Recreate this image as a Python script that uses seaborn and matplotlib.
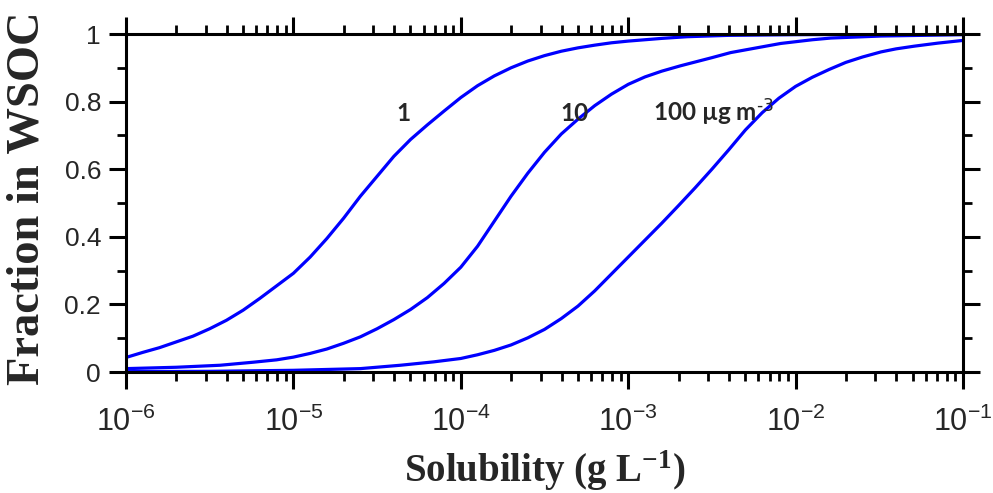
import matplotlib
matplotlib.use("Agg")
import matplotlib.pyplot as plt
import numpy as np
import pandas as pd
import seaborn as sns
from matplotlib.ticker import FixedLocator, MultipleLocator, FuncFormatter, LogLocator

# Fraction of organic compound partitioned into the water-soluble fraction,
# as a function of solubility, for three organic aerosol loadings.
# x values are log10(solubility / g L^-1)
log_s_1 = [-6.0, -5.9, -5.8, -5.7, -5.6, -5.5, -5.4, -5.3, -5.2, -5.1, -5.0,
           -4.9, -4.8, -4.7, -4.6, -4.5, -4.4, -4.3, -4.2, -4.1, -4.0, -3.9,
           -3.8, -3.7, -3.6, -3.5, -3.4, -3.3, -3.2, -3.1, -3.0, -2.8, -2.647,
           -2.4, -2.0, -1.5, -1.0]
frac_1 = [0.043, 0.058, 0.072, 0.089, 0.106, 0.128, 0.153, 0.183, 0.218,
          0.255, 0.292, 0.340, 0.395, 0.455, 0.520, 0.579, 0.638, 0.688,
          0.731, 0.772, 0.812, 0.847, 0.876, 0.900, 0.920, 0.936, 0.949,
          0.959, 0.967, 0.974, 0.979, 0.987, 0.992, 0.996, 0.998, 0.999, 1.0]

log_s_10 = [-6.0, -5.7, -5.437, -5.239, -5.1, -5.0, -4.9, -4.8, -4.7, -4.6,
            -4.5, -4.4, -4.3, -4.2, -4.1, -4.0, -3.9, -3.8, -3.7, -3.6, -3.5,
            -3.4, -3.3, -3.2, -3.1, -3.0, -2.9, -2.8, -2.687, -2.5, -2.388,
            -2.2, -2.089, -1.9, -1.79, -1.49, -1.0]
frac_10 = [0.010, 0.014, 0.020, 0.029, 0.036, 0.044, 0.055, 0.068, 0.085,
           0.104, 0.128, 0.155, 0.185, 0.220, 0.262, 0.310, 0.372, 0.446,
           0.520, 0.588, 0.650, 0.704, 0.748, 0.788, 0.822, 0.851, 0.873,
           0.890, 0.906, 0.930, 0.945, 0.962, 0.972, 0.983, 0.988, 0.994,
           0.998]

log_s_100 = [-6.0, -5.5, -5.0, -4.6, -4.36, -4.162, -4.0, -3.9, -3.8, -3.7,
             -3.6, -3.5, -3.4, -3.3, -3.2, -3.1, -3.0, -2.9, -2.8, -2.7, -2.6,
             -2.5, -2.4, -2.3, -2.2, -2.1, -2.0, -1.9, -1.8, -1.7, -1.6, -1.49,
             -1.4, -1.291, -1.15, -1.0]
frac_100 = [0.001, 0.002, 0.005, 0.010, 0.020, 0.030, 0.040, 0.051, 0.064,
            0.080, 0.101, 0.126, 0.158, 0.195, 0.240, 0.290, 0.340, 0.390,
            0.440, 0.492, 0.545, 0.600, 0.657, 0.716, 0.767, 0.810, 0.845,
            0.872, 0.895, 0.916, 0.932, 0.947, 0.956, 0.964, 0.973, 0.981]

loadings = ["1", "10", "100"]
curve_labels = ["1", "10", "100 \u00b5g m$^{\\text{-3}}$"]
# label anchor: (log10 solubility, fraction) of the left baseline point
label_pos = [(-4.385, 0.743), (-3.404, 0.743), (-2.854, 0.743)]

y_ticks = [0, 0.2, 0.4, 0.6, 0.8, 1.0]

frames = []
for name, xs, ys in zip(loadings, [log_s_1, log_s_10, log_s_100],
                        [frac_1, frac_10, frac_100]):
    frames.append(pd.DataFrame({"solubility": np.power(10.0, xs),
                                "fraction": ys, "loading": name}))
df = pd.concat(frames, ignore_index=True)

sns.set_style("ticks")
plt.rcParams["font.family"] = ["Liberation Sans", "DejaVu Sans"]
plt.rcParams["mathtext.default"] = "regular"

fig = plt.figure(figsize=(9.93, 4.93), dpi=100)
ax = fig.add_axes([126 / 993, 1 - 372 / 493, (963 - 126) / 993, (372 - 34) / 493])

sns.lineplot(data=df, x="solubility", y="fraction", hue="loading",
             palette=["#0000ff"] * 3, estimator=None, sort=True,
             linewidth=2.3, legend=False, ax=ax)

ax.set_xscale("log")
ax.set_xlim(1e-6, 1e-1)
ax.set_ylim(0, 1)

ax.xaxis.set_major_locator(LogLocator(base=10, numticks=10))
ax.xaxis.set_minor_locator(LogLocator(base=10, subs=np.arange(2, 10), numticks=20))
ax.yaxis.set_major_locator(FixedLocator(y_ticks))
ax.yaxis.set_major_formatter(FuncFormatter(lambda v, p: f"{v:g}"))
ax.yaxis.set_minor_locator(MultipleLocator(0.1))

for side in ["left", "right", "top", "bottom"]:
    ax.spines[side].set_visible(True)
    ax.spines[side].set_linewidth(2.2)
    ax.spines[side].set_color("black")

ax.tick_params(which="both", direction="out", top=True, right=True,
               labeltop=False, labelright=False, color="black")
ax.tick_params(which="major", length=12, width=2.2)
ax.tick_params(which="minor", length=6.5, width=2.0)
ax.tick_params(axis="y", which="major", labelsize=19, pad=6)
ax.tick_params(axis="x", which="major", labelsize=22, pad=13)

for text, (lx, ly) in zip(curve_labels, label_pos):
    ax.text(10 ** lx, ly, text, ha="left", va="baseline", fontsize=17.5,
            fontweight="bold", family=["Lato", "DejaVu Sans"])

ax.set_xlabel("Solubility (g L$^{\\mathdefault{-1}}$)", fontsize=28,
              fontweight="bold", family=["Liberation Serif", "DejaVu Serif"])
ax.set_ylabel("Fraction in WSOC", fontsize=33.5, fontweight="bold",
              family=["Liberation Serif", "DejaVu Serif"])
ax.xaxis.set_label_coords(0.5, -0.226)
ax.yaxis.set_label_coords(-0.093, 0.515)

fig.savefig("out.png", dpi=100)
